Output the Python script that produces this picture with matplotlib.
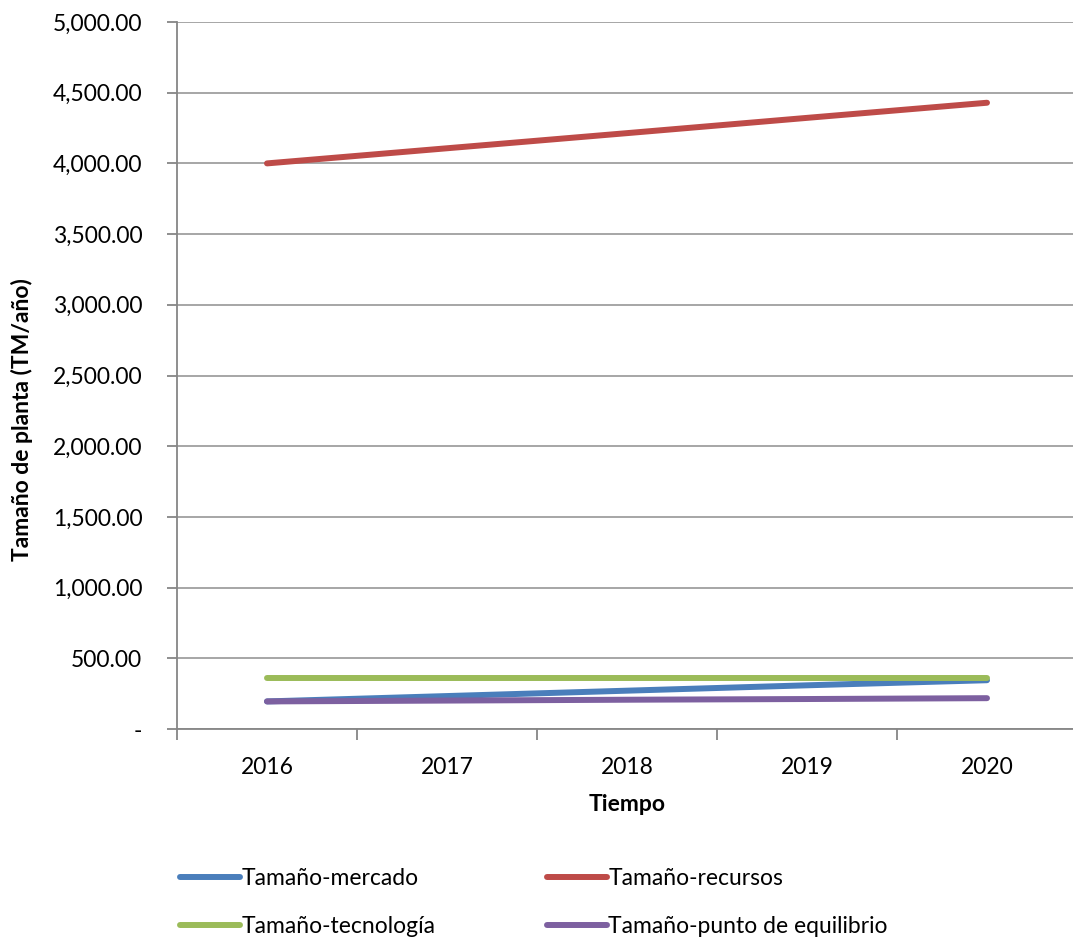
import matplotlib
matplotlib.use("Agg")
import matplotlib.pyplot as plt
from matplotlib.ticker import FuncFormatter, MultipleLocator, FixedLocator

plt.rcParams['font.family'] = ['Lato', 'DejaVu Sans']

years = ['2016', '2017', '2018', '2019', '2020']
mercado = [195, 233, 271, 309, 345]
recursos = [4000, 4107, 4214, 4322, 4429]
tecnologia = [360, 360, 360, 360, 360]
equilibrio = [195, 201, 207, 212, 218]

series = [
    ('Tamaño-mercado', mercado, '#4a7ebb'),
    ('Tamaño-recursos', recursos, '#be4b48'),
    ('Tamaño-tecnología', tecnologia, '#9bbb59'),
    ('Tamaño-punto de equilibrio', equilibrio, '#7d60a0'),
]

W, H = 1073, 943
FS = 16.5
fig = plt.figure(figsize=(W / 100, H / 100), dpi=100)
ax = fig.add_axes([177 / W, 1 - 729 / H, 900 / W, (729 - 22) / H])

x = list(range(len(years)))
lines = []
for name, vals, col in series:
    ln, = ax.plot(x, vals, color=col, lw=4.3, solid_capstyle='round', label=name)
    lines.append(ln)

ax.set_xlim(-0.5, len(years) - 0.5)
ax.set_ylim(0, 5000)
ax.yaxis.set_major_locator(MultipleLocator(500))

def fmt(v, pos):
    return '-' if v == 0 else f'{v:,.2f}'

ax.yaxis.set_major_formatter(FuncFormatter(fmt))
ax.set_xticks(x)
ax.set_xticklabels(years)
ax.xaxis.set_minor_locator(FixedLocator([i - 0.5 for i in range(len(years) + 1)]))
ax.tick_params(axis='x', which='major', length=0, pad=20, labelsize=FS)
ax.tick_params(axis='x', which='minor', length=8, width=1.3, color='#868686')
ax.tick_params(axis='y', length=7, width=1.3, color='#868686', labelsize=FS, pad=18)

ax.grid(axis='y', color='#a6a6a6', lw=1.4)
ax.set_axisbelow(True)
for s in ['top', 'right']:
    ax.spines[s].set_visible(False)
for s in ['left', 'bottom']:
    ax.spines[s].set_color('#868686')
    ax.spines[s].set_linewidth(1.3)

ax.set_xlabel('Tiempo', fontsize=FS, fontweight='bold', labelpad=12)
fig.text(22 / W, 1 - 420 / H, 'Tamaño de planta (TM/año)', rotation=90,
         fontsize=FS, fontweight='bold', ha='center', va='center')

# legend filled row by row: mercado, recursos / tecnologia, equilibrio
order = [0, 2, 1, 3]
fig.legend([lines[i] for i in order], [series[i][0] for i in order],
           ncol=2, frameon=False, fontsize=FS,
           loc='upper left', bbox_to_anchor=(169 / W, 1 - 857 / H),
           handlelength=2.6, handletextpad=0.05, columnspacing=4.9,
           labelspacing=1.17, borderpad=0)

fig.savefig('out.png', dpi=100)
